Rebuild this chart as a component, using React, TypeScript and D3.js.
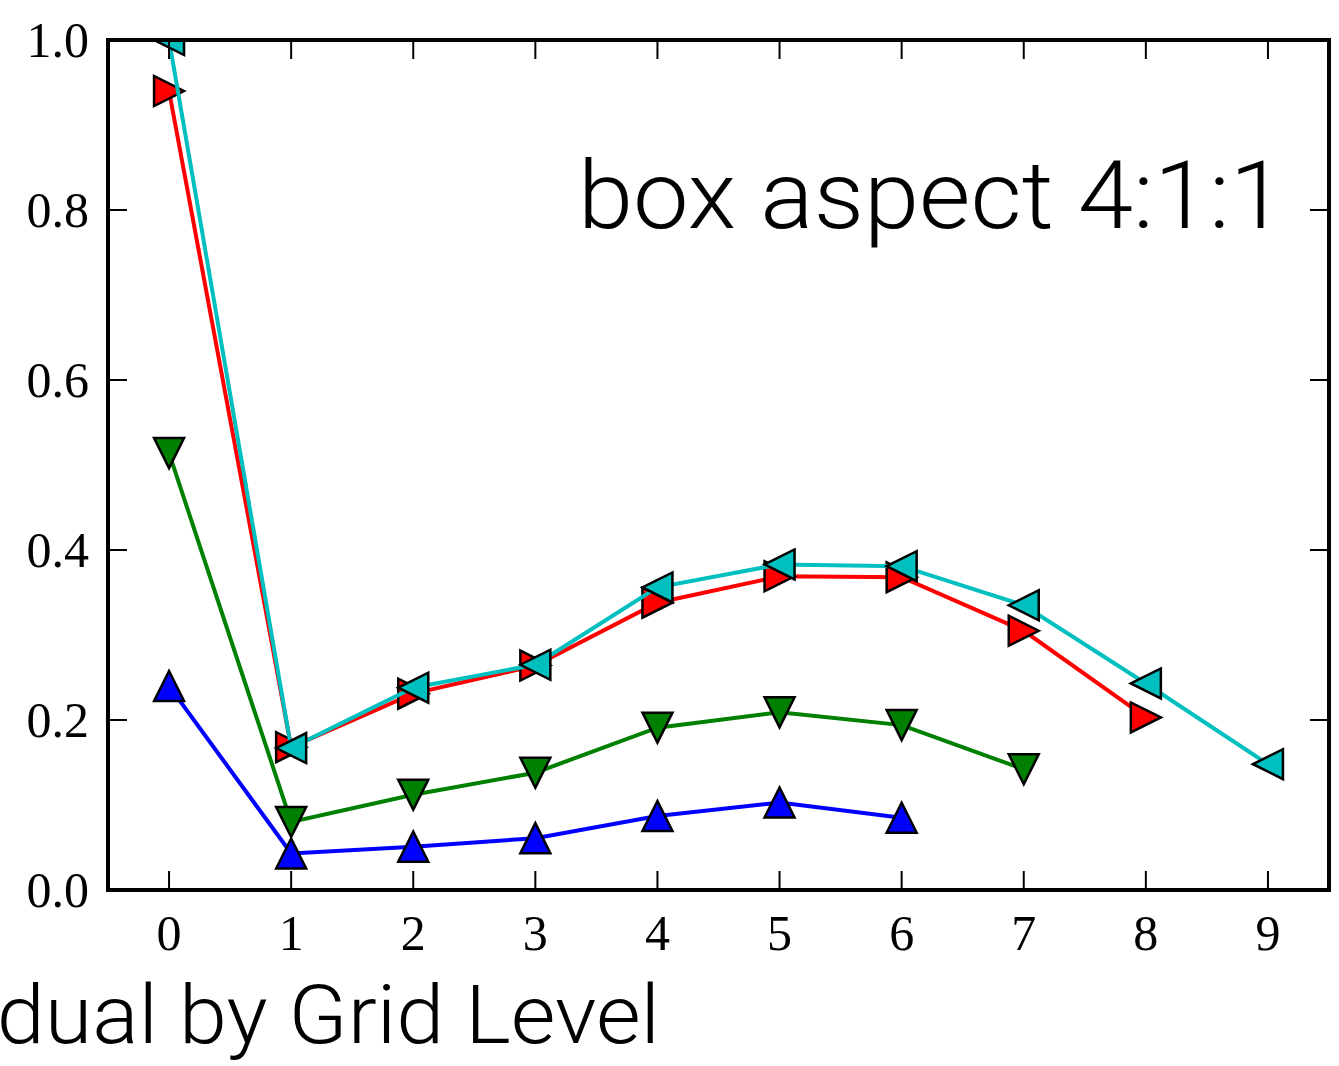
import React from "react";
import * as d3 from "d3";

// grid levels and residuals per series
const levels = [0, 1, 2, 3, 4, 5, 6, 7, 8, 9];
const blueVals = [0.24, 0.043, 0.051, 0.061, 0.087, 0.103, 0.085];
const greenVals = [0.514, 0.08, 0.112, 0.138, 0.191, 0.209, 0.194, 0.142];
const redVals = [0.94, 0.168, 0.231, 0.264, 0.338, 0.369, 0.368, 0.305, 0.203];
const cyanVals = [1.0, 0.167, 0.238, 0.265, 0.356, 0.383, 0.381, 0.335, 0.243, 0.148];
const yTicks = [0, 0.2, 0.4, 0.6, 0.8, 1.0];

const series = [
  { name: "blue", values: blueVals, color: "#0000ff", dir: "up" },
  { name: "green", values: greenVals, color: "#008000", dir: "down" },
  { name: "red", values: redVals, color: "#ff0000", dir: "right" },
  { name: "cyan", values: cyanVals, color: "#00bfbf", dir: "left" },
];

const W = 1339;
const H = 1066;
const left = 108;
const right = 1329;
const top = 40;
const bottom = 890;

// matplotlib-style triangle marker, centred on bounding box
function tri(dir: string, r: number) {
  const p = d3.path();
  if (dir === "up") { p.moveTo(0, -r); p.lineTo(-r, r); p.lineTo(r, r); }
  if (dir === "down") { p.moveTo(0, r); p.lineTo(-r, -r); p.lineTo(r, -r); }
  if (dir === "right") { p.moveTo(r, 0); p.lineTo(-r, -r); p.lineTo(-r, r); }
  if (dir === "left") { p.moveTo(-r, 0); p.lineTo(r, -r); p.lineTo(r, r); }
  p.closePath();
  return p.toString();
}

export default function App() {
  const x = d3.scaleLinear().domain([-0.5, 9.5]).range([left, right]);
  const y = d3.scaleLinear().domain([0, 1]).range([bottom, top]);

  const line = d3
    .line<number>()
    .x((d, i) => x(levels[i]))
    .y((d) => y(d));

  const tickLen = 19;
  const serif = "'Liberation Serif', 'DejaVu Serif', serif";

  return (
    <svg
      width={W}
      height={H}
      style={{ position: "absolute", left: 0, top: 0, background: "#fff" }}
    >
      <defs>
        <clipPath id="plot">
          <rect x={left} y={top} width={right - left} height={bottom - top} />
        </clipPath>
      </defs>

      <g clipPath="url(#plot)">
        {series.map((s) => (
          <g key={s.name}>
            <path d={line(s.values) || ""} fill="none" stroke={s.color} strokeWidth={4} />
            {s.values.map((v, i) => (
              <path
                key={i}
                d={tri(s.dir, 15)}
                transform={`translate(${x(levels[i])},${y(v)})`}
                fill={s.color}
                stroke="#000"
                strokeWidth={2.5}
                strokeLinejoin="miter"
              />
            ))}
          </g>
        ))}
      </g>

      {/* ticks on all four sides, pointing inward */}
      {levels.map((l) => (
        <g key={"xt" + l}>
          <line x1={x(l)} x2={x(l)} y1={bottom} y2={bottom - tickLen} stroke="#000" strokeWidth={2} />
          <line x1={x(l)} x2={x(l)} y1={top} y2={top + tickLen} stroke="#000" strokeWidth={2} />
          <text
            x={x(l)}
            y={950}
            textAnchor="middle"
            fontFamily={serif}
            fontSize={50}
            fill="#000"
          >
            {l}
          </text>
        </g>
      ))}
      {yTicks.map((t) => (
        <g key={"yt" + t}>
          <line x1={left} x2={left + tickLen} y1={y(t)} y2={y(t)} stroke="#000" strokeWidth={2} />
          <line x1={right} x2={right - tickLen} y1={y(t)} y2={y(t)} stroke="#000" strokeWidth={2} />
          <text
            x={89}
            y={y(t) + 17}
            textAnchor="end"
            fontFamily={serif}
            fontSize={50}
            fill="#000"
          >
            {t.toFixed(1)}
          </text>
        </g>
      ))}

      <rect
        x={left}
        y={top}
        width={right - left}
        height={bottom - top}
        fill="none"
        stroke="#000"
        strokeWidth={4}
      />

      <text
        x={578}
        y={228}
        fontFamily="Roboto, 'Liberation Sans', sans-serif"
        fontWeight={300}
        fontSize={94}
        textLength={707}
        lengthAdjust="spacingAndGlyphs"
        fill="#000"
      >
        box aspect 4:1:1
      </text>

      {/* x label runs off the left edge, as in the reference */}
      <text
        x={-166}
        y={1043}
        fontFamily="Roboto, 'Liberation Sans', sans-serif"
        fontWeight={300}
        fontSize={82}
        textLength={826}
        lengthAdjust="spacingAndGlyphs"
        fill="#000"
      >
        Residual by Grid Level
      </text>
    </svg>
  );
}
